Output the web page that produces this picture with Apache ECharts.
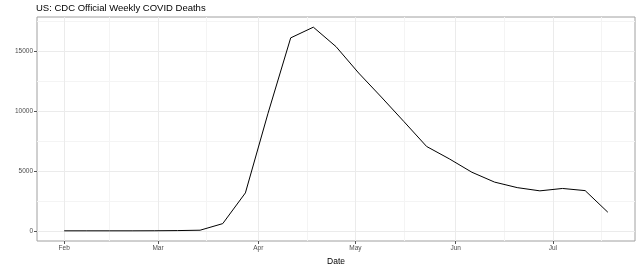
<!DOCTYPE html>
<html>
<head>
<meta charset="utf-8">
<script src="https://cdn.jsdelivr.net/npm/echarts@6/dist/echarts.min.js"></script>
<style>
html,body{margin:0;padding:0;background:#fff;}
#c{width:640px;height:267px;}
</style>
</head>
<body>
<div id="c"></div>
<script>
var weekDates = ['2020-02-01','2020-02-08','2020-02-15','2020-02-22','2020-02-29',
  '2020-03-07','2020-03-14','2020-03-21','2020-03-28','2020-04-04','2020-04-11',
  '2020-04-18','2020-04-25','2020-05-02','2020-05-09','2020-05-16','2020-05-23',
  '2020-05-30','2020-06-06','2020-06-13','2020-06-20','2020-06-27','2020-07-04',
  '2020-07-11','2020-07-18'];
var deaths = [0,0,0,0,5,20,50,600,3160,9800,16080,16970,15350,13150,11150,9100,7030,
  6000,4880,4060,3600,3330,3530,3350,1550];
var monthTicks = ['2020-02-01','2020-03-01','2020-04-01','2020-05-01','2020-06-01','2020-07-01'];
var monthLabels = ['Feb','Mar','Apr','May','Jun','Jul'];
var monthMinor = ['2020-02-15','2020-03-16','2020-04-16','2020-05-16','2020-06-16','2020-07-16'];
var yTicks = [0,5000,10000,15000];
var yMinor = [2500,7500,12500,17500];
var titleText = 'US: CDC Official Weekly COVID Deaths';
var xTitle = 'Date';

function ts(s){ var p=s.split('-'); return Date.UTC(+p[0], +p[1]-1, +p[2]); }
var t0 = ts(weekDates[0]), t1 = ts(weekDates[weekDates.length-1]);
var xpad = (t1 - t0) * 0.05;
var xmin = t0 - xpad, xmax = t1 + xpad;
var ymaxData = Math.max.apply(null, deaths), yminData = Math.min.apply(null, deaths);
var ypad = (ymaxData - yminData) * 0.05;
var ymin = yminData - ypad, ymax = ymaxData + ypad;

var labelMap = {};
monthTicks.forEach(function(d,i){ labelMap[ts(d)] = monthLabels[i]; });

var chart = echarts.init(document.getElementById('c'), null, {renderer:'canvas'});
var font = 'Liberation Sans, Arial, sans-serif';
chart.setOption({
  animation:false,
  backgroundColor:'#ffffff',
  title:{ text:titleText, left:36, top:3, padding:0,
    textStyle:{ fontFamily:font, fontSize:9.5, fontWeight:'normal', color:'#000' } },
  grid:{ left:37, right:5, top:17, bottom:26, containLabel:false, outerBoundsMode:'none',
    show:true, borderColor:'#a0a0a0', borderWidth:1, backgroundColor:'transparent' },
  xAxis:[
    { type:'value', min:xmin, max:xmax, name:xTitle, nameLocation:'middle', nameGap:14,
      nameTextStyle:{ fontFamily:font, fontSize:8.5, color:'#000' },
      axisLine:{ show:false, onZero:false },
      axisTick:{ show:true, length:3, lineStyle:{ color:'#555' }, customValues: monthTicks.map(ts) },
      axisLabel:{ show:true, fontFamily:font, fontSize:6.5, color:'#4d4d4d', margin:4, customValues: monthTicks.map(ts),
        formatter:function(v){ return labelMap[v] || ''; } },
      splitLine:{ show:true, lineStyle:{ color:'#ebebeb', width:1 } },
      z:1
    },
    { type:'value', min:xmin, max:xmax, gridIndex:0, position:'bottom',
      axisLine:{ show:false, onZero:false },
      axisTick:{ show:false, customValues: monthMinor.map(ts) },
      axisLabel:{ show:false, customValues: monthMinor.map(ts) },
      splitLine:{ show:true, lineStyle:{ color:'#f4f4f4', width:1 } },
      z:0
    }
  ],
  yAxis:[
    { type:'value', min:ymin, max:ymax,
      axisLine:{ show:false, onZero:false },
      axisTick:{ show:true, length:3, lineStyle:{ color:'#555' }, customValues: yTicks },
      axisLabel:{ show:true, fontFamily:font, fontSize:6.5, color:'#4d4d4d', margin:4, customValues: yTicks,
        formatter:function(v){ return String(v); } },
      splitLine:{ show:true, lineStyle:{ color:'#ebebeb', width:1 } },
      z:1
    },
    { type:'value', min:ymin, max:ymax, position:'left',
      axisLine:{ show:false, onZero:false },
      axisTick:{ show:false, customValues: yMinor },
      axisLabel:{ show:false, customValues: yMinor },
      splitLine:{ show:true, lineStyle:{ color:'#f4f4f4', width:1 } },
      z:0
    }
  ],
  series:[{
    type:'line', xAxisIndex:0, yAxisIndex:0,
    data: weekDates.map(function(d,i){ return [ts(d), deaths[i]]; }),
    showSymbol:false, symbol:'none',
    lineStyle:{ color:'#000', width:1 },
    z:5
  }]
});
</script>
</body>
</html>
